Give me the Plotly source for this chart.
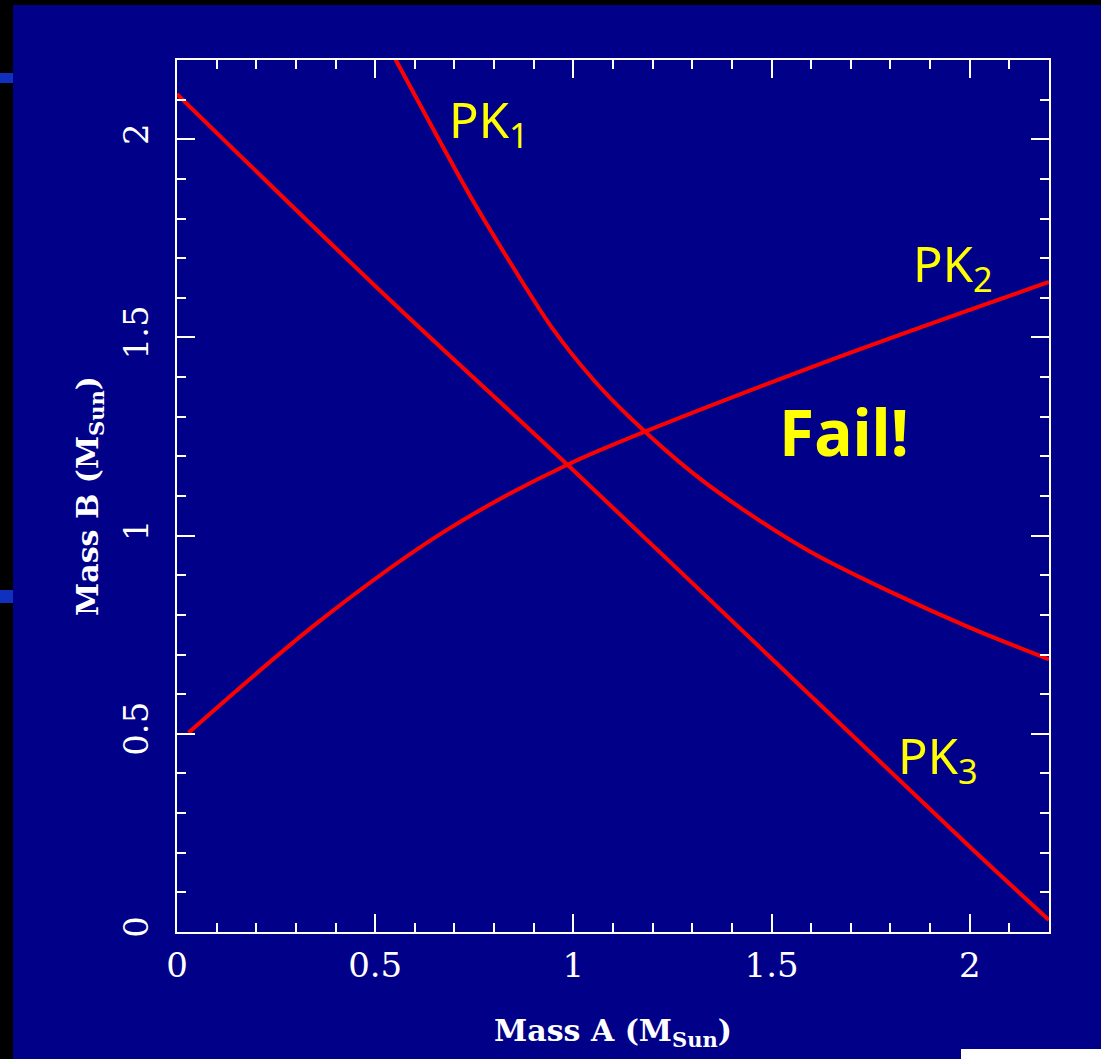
import plotly.graph_objects as go

# ---- data ----
pk1_x = [0.551, 0.65, 0.75, 0.85, 0.95, 1.05, 1.15, 1.30, 1.45, 1.60, 1.80, 2.0, 2.2]
pk1_y = [2.202, 2.019, 1.839, 1.674, 1.519, 1.394, 1.291, 1.159, 1.051, 0.958, 0.858, 0.768, 0.688]

pk2_x = [0.029, 0.354, 0.674, 0.985, 1.598, 2.20]
pk2_y = [0.503, 0.780, 1.010, 1.179, 1.424, 1.640]

pk3_x = [0.0, 0.5, 1.0, 1.5, 2.0, 2.2]
pk3_y = [2.114, 1.630, 1.165, 0.690, 0.215, 0.030]

x_ticks = [0, 0.5, 1, 1.5, 2]
x_tick_labels = ["0", "0.5", "1", "1.5", "2"]
y_ticks = [0, 0.5, 1, 1.5, 2]
y_tick_labels = ["0", "0.5", "1", "1.5", "2"]

labels = ["PK<sub>1</sub>", "PK<sub>2</sub>", "PK<sub>3</sub>"]
label_x = [0.680, 1.851, 1.813]
label_y = [2.043, 1.680, 0.440]

fail_text = "Fail!"
fail_x = 1.684
fail_y = 1.262

BG = "#000088"
RED = "#ff0000"
YEL = "#ffff00"

fig = go.Figure()
for xs, ys in [(pk1_x, pk1_y), (pk2_x, pk2_y), (pk3_x, pk3_y)]:
    fig.add_trace(go.Scatter(x=xs, y=ys, mode="lines",
                             line=dict(color=RED, width=4, shape="spline", smoothing=0.9),
                             showlegend=False, hoverinfo="skip", cliponaxis=True))

for t, ax, ay in zip(labels, label_x, label_y):
    fig.add_annotation(x=ax, y=ay, xref="x", yref="y", text=t, showarrow=False,
                       xanchor="left", yanchor="middle",
                       font=dict(family="Noto Sans", size=49, color=YEL))
fig.add_annotation(x=fail_x, y=fail_y, xref="x", yref="y", text="<b>" + fail_text + "</b>",
                   showarrow=False, xanchor="center", yanchor="middle",
                   font=dict(family="Noto Sans", size=64, color=YEL))

axis_common = dict(
    range=[0, 2.2], showgrid=False, zeroline=False,
    showline=True, linecolor="white", linewidth=2, mirror="allticks",
    ticks="inside", ticklen=18, tickwidth=2, tickcolor="white",
    minor=dict(dtick=0.1, ticks="inside", ticklen=9, tickwidth=2, tickcolor="white"),
    tickfont=dict(family="DejaVu Serif", size=34, color="white"),
)

fig.update_xaxes(**axis_common, tickvals=x_ticks, ticktext=x_tick_labels,
                 ticklabelstandoff=2,
                 title=dict(text="Mass A (M<sub>Sun</sub>)", standoff=36,
                            font=dict(family="DejaVu Serif", size=30, color="white", weight="bold")))
fig.update_yaxes(**axis_common, tickvals=y_ticks, ticktext=y_tick_labels, tickangle=-90,
                 ticklabelstandoff=13,
                 title=dict(text="Mass B (M<sub>Sun</sub>)", standoff=9,
                            font=dict(family="DejaVu Serif", size=30, color="white", weight="bold")))

# decorative border strips from the slide
shapes = [
    dict(type="rect", xref="paper", yref="paper", x0=-0.25, x1=(13 - 177) / 872,
         y0=-0.2, y1=1.1, fillcolor="black", line=dict(width=0), layer="below"),
    dict(type="rect", xref="paper", yref="paper", x0=-0.25, x1=1.1,
         y0=1 + 55 / 872, y1=1.1, fillcolor="black", line=dict(width=0), layer="below"),
    dict(type="rect", xref="paper", yref="paper", x0=-0.25, x1=(13 - 177) / 872,
         y0=(932 - 83) / 872, y1=(932 - 73) / 872, fillcolor="#1030c0", line=dict(width=0), layer="below"),
    dict(type="rect", xref="paper", yref="paper", x0=-0.25, x1=(13 - 177) / 872,
         y0=(932 - 603) / 872, y1=(932 - 590) / 872, fillcolor="#1030c0", line=dict(width=0), layer="below"),
    dict(type="rect", xref="paper", yref="paper", x0=(961 - 177) / 872, x1=1.1,
         y0=-0.2, y1=(932 - 1049) / 872, fillcolor="white", line=dict(width=0)),
]

fig.update_layout(
    width=1101, height=1059,
    margin=dict(l=177, r=52, t=60, b=127, autoexpand=False),
    paper_bgcolor=BG, plot_bgcolor=BG,
    shapes=shapes,
    showlegend=False,
)

fig.write_html("out.html")
